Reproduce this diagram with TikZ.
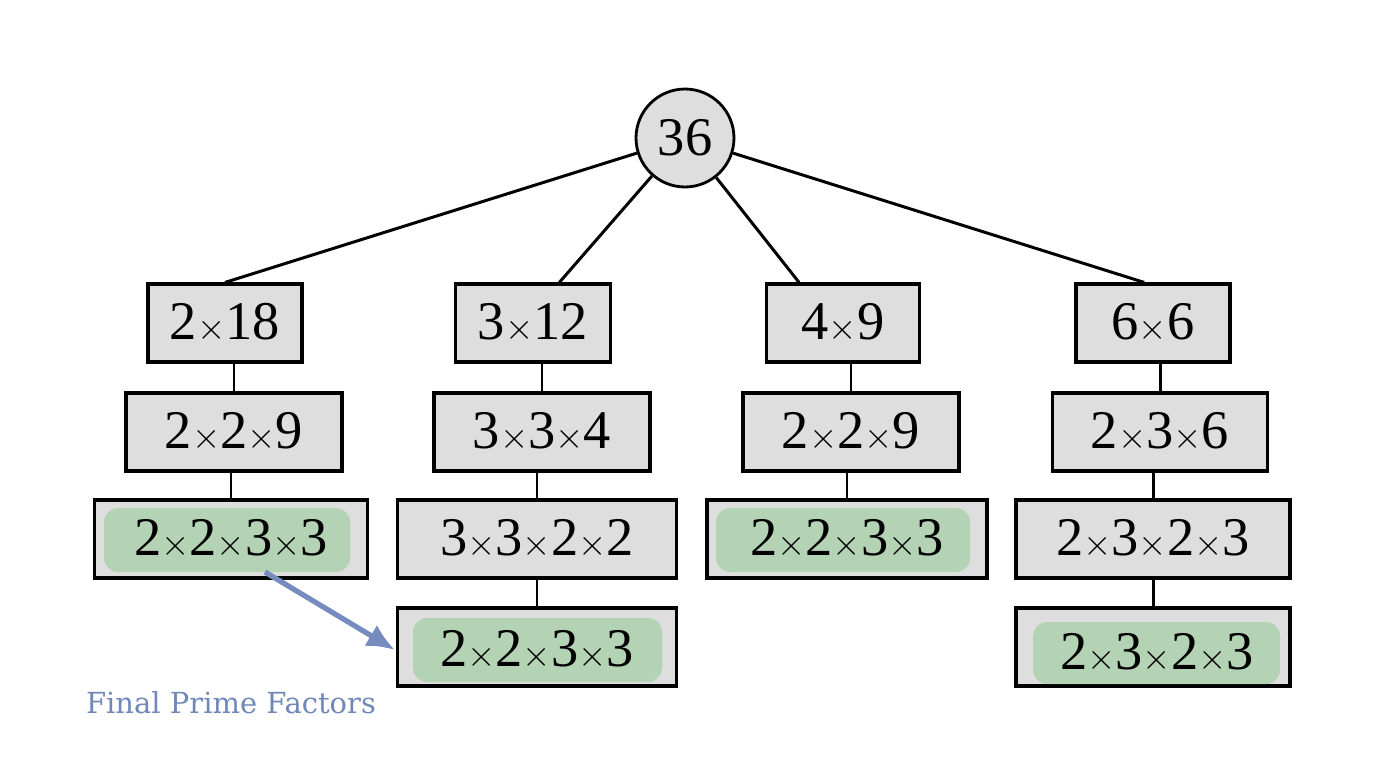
\documentclass[tikz,border=0pt]{standalone}
\usepackage{fontspec}
\setmainfont{Liberation Serif}
\newfontfamily\capfont{DejaVu Serif}
\usetikzlibrary{positioning,arrows.meta}
\definecolor{capblue}{RGB}{112,136,184}
\definecolor{arrblue}{RGB}{118,140,190}
\newcommand\tm{{\fontsize{22}{22}\selectfont$\times$}}
\tikzset{
  fbox/.style={draw, line width=1.8pt, fill=black!13, minimum height=1.56cm,
    inner sep=0pt, font=\fontsize{31}{36}\selectfont},
  hl/.style={fill=green!45!black!35, opacity=0.75, rounded corners=8pt, draw=none},
  tl/.style={line width=1.7pt}
}
\begin{document}
\begin{tikzpicture}[x=0.02cm, y=-0.02cm]
\useasboundingbox (0,0) rectangle (1384,768);

% root
\node[circle, draw, line width=1.6pt, fill=black!13, minimum size=1.96cm,
  font=\fontsize{31}{36}\selectfont] (root) at (685,138) {36};

% first row
\node[fbox, minimum width=3.08cm] (a1) at (225,323) {2\tm18};
\node[fbox, minimum width=3.1cm] (b1) at (533,323) {3\tm12};
\node[fbox, minimum width=3.06cm] (c1) at (843,323) {4\tm9};
\node[fbox, minimum width=3.08cm] (d1) at (1153,323) {6\tm6};

% second row
\node[fbox, minimum width=4.32cm] (a2) at (234,432) {2\tm2\tm9};
\node[fbox, minimum width=4.32cm] (b2) at (542,432) {3\tm3\tm4};
\node[fbox, minimum width=4.32cm] (c2) at (851,432) {2\tm2\tm9};
\node[fbox, minimum width=4.3cm] (d2) at (1160,432) {2\tm3\tm6};

% third row
\node[fbox, minimum width=5.46cm] (a3) at (231,539) {};
\node[fbox, minimum width=5.58cm] (b3) at (537,539) {3\tm3\tm2\tm2};
\node[fbox, minimum width=5.6cm] (c3) at (847,539) {};
\node[fbox, minimum width=5.48cm] (d3) at (1153,539) {2\tm3\tm2\tm3};

% fourth row
\node[fbox, minimum width=5.58cm] (b4) at (537,647) {};
\node[fbox, minimum width=5.48cm] (d4) at (1153,647) {};

% highlighted finals
\fill[hl] (104,508) rectangle (350,572);
\fill[hl] (716,508) rectangle (970,572);
\fill[hl] (413,618) rectangle (662,682);
\fill[hl] (1033,622) rectangle (1280,684);
\node[font=\fontsize{31}{36}\selectfont] (a3t) at (a3) {2\tm2\tm3\tm3};
\node[font=\fontsize{31}{36}\selectfont] (c3t) at (c3) {2\tm2\tm3\tm3};
\node[font=\fontsize{31}{36}\selectfont] (b4t) at (537,650) {2\tm2\tm3\tm3};
\node[font=\fontsize{31}{36}\selectfont] (d4t) at (1157,653) {2\tm3\tm2\tm3};

% tree lines
\draw[tl] (root) -- (a1.north);
\draw[tl] (root) -- ([xshift=15]b1.north);
\draw[tl] (root) -- ([xshift=-25]c1.north);
\draw[tl] (root) -- ([xshift=-5]d1.north);
\foreach \u/\v in {a1/a2, a2/a3, b1/b2, b2/b3, b3/b4, c1/c2, c2/c3, d1/d2, d2/d3, d3/d4}
  \draw[tl] (\v.north) -- (\v.north |- \u.south);

% callout
\coordinate (tip) at (395,650);
\draw[line width=3pt, draw=arrblue, -{Latex[length=16pt, width=14pt]}]
  (265,572) -- (tip);
\node[text=capblue, font=\capfont\fontsize{16.5}{20}\selectfont] (cap) at (231,703) {Final Prime Factors};

\end{tikzpicture}
\end{document}
